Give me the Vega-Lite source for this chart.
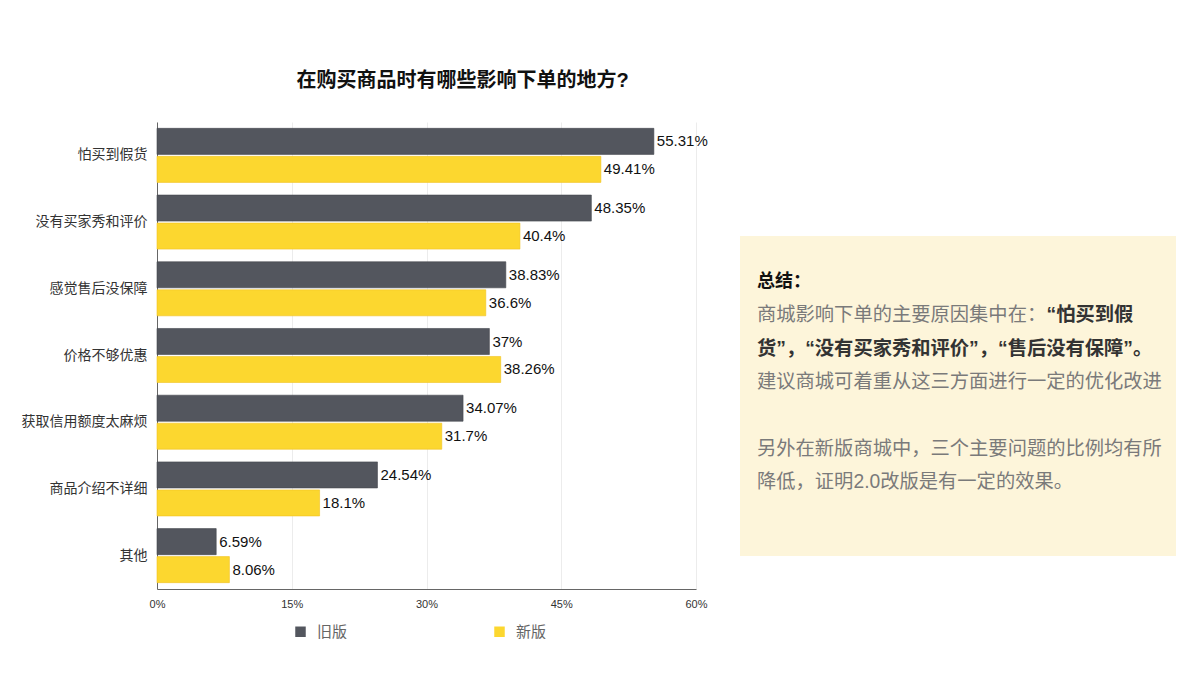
{
  "$schema": "https://vega.github.io/schema/vega-lite/v6.json",
  "padding": {"left": 21, "top": 71, "right": 0, "bottom": 0},
  "autosize": {"type": "pad"},
  "background": "#ffffff",
  "config": {
    "font": "Liberation Sans, Noto Sans CJK SC",
    "view": {"stroke": null}
  },
  "datasets": {
    "bars": [
      {"reason": "怕买到假货", "version": "旧版", "share": 0.5531},
      {"reason": "怕买到假货", "version": "新版", "share": 0.4941},
      {"reason": "没有买家秀和评价", "version": "旧版", "share": 0.4835},
      {"reason": "没有买家秀和评价", "version": "新版", "share": 0.404},
      {"reason": "感觉售后没保障", "version": "旧版", "share": 0.3883},
      {"reason": "感觉售后没保障", "version": "新版", "share": 0.366},
      {"reason": "价格不够优惠", "version": "旧版", "share": 0.37},
      {"reason": "价格不够优惠", "version": "新版", "share": 0.3826},
      {"reason": "获取信用额度太麻烦", "version": "旧版", "share": 0.3407},
      {"reason": "获取信用额度太麻烦", "version": "新版", "share": 0.317},
      {"reason": "商品介绍不详细", "version": "旧版", "share": 0.2454},
      {"reason": "商品介绍不详细", "version": "新版", "share": 0.181},
      {"reason": "其他", "version": "旧版", "share": 0.0659},
      {"reason": "其他", "version": "新版", "share": 0.0806}
    ],
    "notes": [
      {"line": 1, "kind": "head", "text": "总结："},
      {"line": 2, "kind": "body", "text": "商城影响下单的主要原因集中在："},
      {"line": 2, "kind": "tail", "text": "“怕买到假"},
      {"line": 3, "kind": "bold", "text": "货”，“没有买家秀和评价”，“售后没有保障”。"},
      {"line": 4, "kind": "body", "text": "建议商城可着重从这三方面进行一定的优化改进"},
      {"line": 6, "kind": "body", "text": "另外在新版商城中，三个主要问题的比例均有所"},
      {"line": 7, "kind": "body", "text": "降低，证明2.0改版是有一定的效果。"}
    ]
  },
  "spacing": 32,
  "hconcat": [
    {
      "width": 539,
      "height": 467,
      "title": {
        "text": "在购买商品时有哪些影响下单的地方?",
        "fontSize": 20,
        "fontWeight": "bold",
        "color": "#111111",
        "offset": 31,
        "dx": 36,
        "anchor": "middle",
        "frame": "group"
      },
      "data": {"name": "bars"},
      "encoding": {
        "y": {
          "field": "reason",
          "type": "nominal",
          "sort": ["怕买到假货", "没有买家秀和评价", "感觉售后没保障", "价格不够优惠", "获取信用额度太麻烦", "商品介绍不详细", "其他"],
          "scale": {"paddingInner": 0.19, "paddingOuter": 0.095},
          "axis": {
            "title": null,
            "labelFont": "Noto Sans CJK SC",
            "labelFontSize": 14,
            "labelColor": "#333333",
            "ticks": false,
            "labelPadding": 10,
            "domainColor": "#666666"
          }
        },
        "yOffset": {
          "field": "version",
          "type": "nominal",
          "scale": {"domain": ["旧版", "新版"], "paddingInner": 0.07, "paddingOuter": 0}
        },
        "x": {
          "field": "share",
          "type": "quantitative",
          "scale": {"domain": [0, 0.6]},
          "axis": {
            "title": null,
            "values": [0, 0.15, 0.3, 0.45, 0.6],
            "format": ".0%",
            "grid": true,
            "gridColor": "#ececec",
            "ticks": false,
            "labelFlush": false,
            "labelFontSize": 11,
            "labelColor": "#333333",
            "labelPadding": 9,
            "domainColor": "#666666"
          }
        }
      },
      "layer": [
        {
          "mark": {"type": "bar", "strokeWidth": 1, "strokeOpacity": 0.6},
          "encoding": {
            "color": {
              "field": "version",
              "type": "nominal",
              "scale": {"domain": ["旧版", "新版"], "range": ["#53565e", "#fcd72f"]},
              "legend": {
                "title": null,
                "orient": "none",
                "legendX": 136,
                "legendY": 502,
                "direction": "horizontal",
                "symbolType": "square",
                "symbolSize": 110,
                "symbolStrokeWidth": 0,
                "labelFont": "Noto Sans CJK SC",
                "labelFontSize": 15,
                "labelColor": "#666666",
                "labelOffset": 9,
                "columnPadding": 144
              }
            },
            "stroke": {
              "field": "version",
              "type": "nominal",
              "scale": {"domain": ["旧版", "新版"], "range": ["#45474e", "#f2c21f"]},
              "legend": null
            }
          }
        },
        {
          "mark": {"type": "text", "align": "left", "baseline": "middle", "dx": 3, "fontSize": 15, "font": "Liberation Sans", "color": "#111111"},
          "encoding": {
            "text": {"field": "share", "type": "quantitative", "format": ".2~%"}
          }
        }
      ]
    },
    {
      "spacing": 0,
      "vconcat": [
        {
          "width": 436,
          "height": 114,
          "data": {"values": []},
          "mark": {"type": "text"}
        },
        {
          "width": 436,
          "height": 320,
          "view": {"fill": "#fdf5da", "stroke": null},
          "data": {"name": "notes"},
          "encoding": {
            "x": {"datum": 0, "type": "quantitative", "scale": {"domain": [0, 1], "range": [17, 436]}, "axis": null},
            "y": {"field": "line", "type": "ordinal", "scale": {"type": "point", "domain": [1, 2, 3, 4, 5, 6, 7], "range": [46, 246], "padding": 0}, "axis": null},
            "text": {"field": "text", "type": "nominal"}
          },
          "layer": [
            {
              "transform": [{"filter": "datum.kind === 'head'"}],
              "mark": {"type": "text", "align": "left", "baseline": "middle", "fontSize": 18, "fontWeight": "bold", "color": "#111111"}
            },
            {
              "transform": [{"filter": "datum.kind === 'body'"}],
              "mark": {"type": "text", "align": "left", "baseline": "middle", "fontSize": 19.3, "color": "#7a7a7a"}
            },
            {
              "transform": [{"filter": "datum.kind === 'bold'"}],
              "mark": {"type": "text", "align": "left", "baseline": "middle", "fontSize": 19.3, "fontWeight": "bold", "color": "#333333"}
            },
            {
              "transform": [{"filter": "datum.kind === 'tail'"}],
              "mark": {"type": "text", "align": "left", "baseline": "middle", "dx": 289.5, "fontSize": 19.3, "fontWeight": "bold", "color": "#333333"}
            }
          ]
        }
      ]
    }
  ]
}
